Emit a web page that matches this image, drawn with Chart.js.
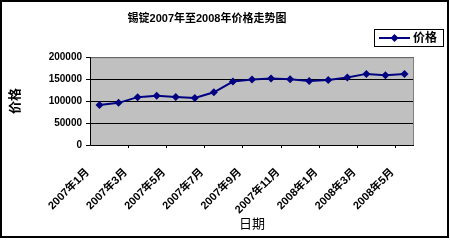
<!DOCTYPE html>
<html>
<head>
<meta charset="utf-8">
<script src="https://cdn.jsdelivr.net/npm/chart.js@4/dist/chart.umd.min.js"></script>
<style>
  html, body { margin: 0; padding: 0; background: #fff; }
  #box { width: 450px; height: 240px; }
</style>
</head>
<body>
<div id="box"><canvas id="priceChart" width="450" height="240"></canvas></div>
<script>
  // 锡锭 2007-2008 价格
  const months = ["2007年1月", "2007年2月", "2007年3月", "2007年4月", "2007年5月", "2007年6月",
    "2007年7月", "2007年8月", "2007年9月", "2007年10月", "2007年11月", "2007年12月",
    "2008年1月", "2008年2月", "2008年3月", "2008年4月", "2008年5月"];
  const prices = [91000, 96000, 109000, 112000, 109500, 107000, 120000, 144500, 149000,
    151500, 150000, 146000, 148000, 154000, 162000, 159000, 162000];
  const yTicks = [0, 50000, 100000, 150000, 200000];

  const font = "'Liberation Sans', 'Noto Sans CJK SC', sans-serif";

  const framePlugin = {
    id: "frame",
    beforeDraw(chart) {
      const { ctx, chartArea: a } = chart;
      ctx.save();
      ctx.fillStyle = "#c0c0c0";
      ctx.fillRect(a.left, a.top, a.right - a.left, a.bottom - a.top);
      ctx.restore();
    },
    afterDraw(chart) {
      const { ctx, chartArea: a } = chart;
      const x = chart.scales.x;
      ctx.save();
      // plot border
      ctx.strokeStyle = "#808080";
      ctx.lineWidth = 1;
      ctx.strokeRect(a.left + 0.5, a.top + 0.5, a.right - a.left - 1, a.bottom - a.top);
      ctx.strokeStyle = "#000";
      ctx.beginPath();
      ctx.moveTo(a.left + 0.5, a.top);
      ctx.lineTo(a.left + 0.5, a.bottom + 0.5);
      ctx.lineTo(a.right, a.bottom + 0.5);
      // category ticks every two months
      for (let i = 2; i < months.length; i += 2) {
        const px = Math.round((x.getPixelForTick(i - 1) + x.getPixelForTick(i)) / 2) + 0.5;
        ctx.moveTo(px, a.bottom);
        ctx.lineTo(px, a.bottom + 3);
      }
      ctx.stroke();
      // outer frame
      ctx.lineWidth = 2;
      ctx.strokeRect(1, 1, 447, 236);
      // legend
      ctx.lineWidth = 1;
      ctx.strokeRect(374.5, 29.5, 69, 17);
      ctx.strokeStyle = "#000080";
      ctx.lineWidth = 2;
      ctx.beginPath();
      ctx.moveTo(379, 38);
      ctx.lineTo(410, 38);
      ctx.stroke();
      ctx.fillStyle = "#000080";
      ctx.beginPath();
      ctx.moveTo(394.5, 34);
      ctx.lineTo(398.5, 38);
      ctx.lineTo(394.5, 42);
      ctx.lineTo(390.5, 38);
      ctx.closePath();
      ctx.fill();
      ctx.fillStyle = "#000";
      ctx.font = "bold 12px " + font;
      ctx.textBaseline = "middle";
      ctx.fillText("价格", 413, 38.5);
      ctx.restore();
    }
  };

  new Chart(document.getElementById("priceChart"), {
    type: "line",
    data: {
      labels: months,
      datasets: [{
        label: "价格",
        data: prices,
        borderColor: "#000080",
        backgroundColor: "#000080",
        borderWidth: 2,
        pointStyle: "rectRot",
        pointRadius: 4,
        pointBorderWidth: 0,
        tension: 0
      }]
    },
    options: {
      responsive: false,
      animation: false,
      devicePixelRatio: 1,
      layout: { padding: { left: 0, right: 36, top: 0, bottom: 0 } },
      plugins: {
        legend: { display: false },
        tooltip: { enabled: false },
        title: {
          display: true,
          text: "锡锭2007年至2008年价格走势图",
          color: "#000",
          font: { family: font, size: 11, weight: "bold", lineHeight: 1.2 },
          padding: { top: 12, bottom: 32 }
        }
      },
      scales: {
        x: {
          offset: true,
          afterFit(s) { s.height = 95; },
          grid: { display: false, drawTicks: false },
          border: { display: false },
          ticks: {
            autoSkip: false,
            maxRotation: 45,
            minRotation: 45,
            color: "#000",
            padding: 21,
            labelOffset: -12,
            font: { family: font, size: 11, weight: "bold" },
            callback(v, i) { return i % 2 === 0 ? months[i] : ""; }
          },
          title: {
            display: true,
            text: "日期",
            color: "#000",
            font: { family: font, size: 13 },
            padding: { top: 0, bottom: 8 }
          }
        },
        y: {
          min: 0,
          max: 200000,
          afterFit(s) { s.width = 90; },
          afterBuildTicks(s) { s.ticks = yTicks.map(v => ({ value: v })); },
          grid: { color: "#000", lineWidth: 1, drawTicks: true, tickLength: 4 },
          border: { display: false },
          ticks: {
            color: "#000",
            padding: 4,
            font: { family: font, size: 10, weight: "bold" },
            callback(v) { return String(v); }
          },
          title: {
            display: true,
            text: "价格",
            color: "#000",
            font: { family: font, size: 13, weight: "bold" },
            padding: { top: 8, bottom: 0 }
          }
        }
      }
    },
    plugins: [framePlugin]
  });
</script>
</body>
</html>
